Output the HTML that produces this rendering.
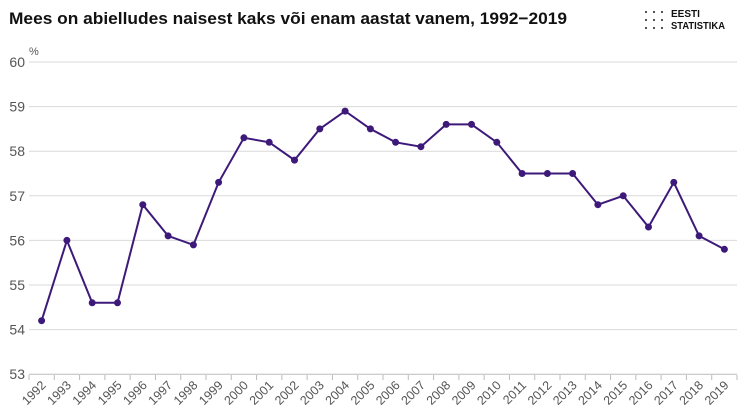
<!DOCTYPE html>
<html><head><meta charset="utf-8"><style>
html,body{margin:0;padding:0;background:#fff;}
svg{display:block;font-family:"Liberation Sans",sans-serif;}
</style></head><body>
<svg id="c" width="744" height="416" viewBox="0 0 744 416" xmlns="http://www.w3.org/2000/svg">
<text x="9" y="24" font-size="17" font-weight="bold" fill="#111" textLength="558" lengthAdjust="spacingAndGlyphs">Mees on abielludes naisest kaks või enam aastat vanem, 1992−2019</text>
<g fill="#444">
<circle cx="646" cy="12" r="1.1"/><circle cx="654" cy="12" r="1.1"/><circle cx="662" cy="12" r="1.1"/>
<circle cx="646" cy="20" r="1.1"/><circle cx="654" cy="20" r="1.1"/><circle cx="662" cy="20" r="1.1"/>
<circle cx="646" cy="28" r="1.1"/><circle cx="654" cy="28" r="1.1"/><circle cx="662" cy="28" r="1.1"/>
</g>
<text x="671" y="17" font-size="10" font-weight="bold" fill="#111">EESTI</text>
<text x="671" y="29" font-size="10" font-weight="bold" fill="#111" textLength="54" lengthAdjust="spacingAndGlyphs">STATISTIKA</text>
<text x="29" y="55" font-size="11" fill="#555">%</text>
<g id="g"></g>
</svg>
<script>
var d=[54.2,56.0,54.6,54.6,56.8,56.1,55.9,57.3,58.3,58.2,57.8,58.5,58.9,58.5,58.2,58.1,58.6,58.6,58.2,57.5,57.5,57.5,56.8,57.0,56.3,57.3,56.1,55.8];
var x0=29,x1=737,w=(x1-x0)/28;
function Y(v){return 62+(60-v)*44.6;}
var s='';
for(var v=53;v<=60;v++){var y=Y(v);
s+='<line x1="'+x0+'" x2="'+x1+'" y1="'+y+'" y2="'+y+'" stroke="'+(v==53?'#bbb':'#d9d9d9')+'" stroke-width="1"/>';
s+='<text x="25" y="'+(y+5)+'" font-size="14" fill="#555" text-anchor="end">'+v+'</text>';}
for(var i=0;i<=28;i++){var x=x0+i*w;s+='<line x1="'+x+'" x2="'+x+'" y1="375" y2="380" stroke="#bbb"/>';}
var p='';
for(var i=0;i<28;i++){var x=x0+w*(i+0.5);p+=(i?'L':'M')+x.toFixed(1)+' '+Y(d[i]).toFixed(1);
s+='<text transform="translate('+(x+5)+',386) rotate(-45)" font-size="12.5" fill="#555" text-anchor="end">'+(1992+i)+'</text>';}
s+='<path d="'+p+'" fill="none" stroke="#3d1a7a" stroke-width="2"/>';
for(var i=0;i<28;i++){var x=x0+w*(i+0.5);s+='<circle cx="'+x.toFixed(1)+'" cy="'+Y(d[i]).toFixed(1)+'" r="3.5" fill="#3d1a7a"/>';}
document.getElementById('g').innerHTML=s;
</script>
</body></html>
